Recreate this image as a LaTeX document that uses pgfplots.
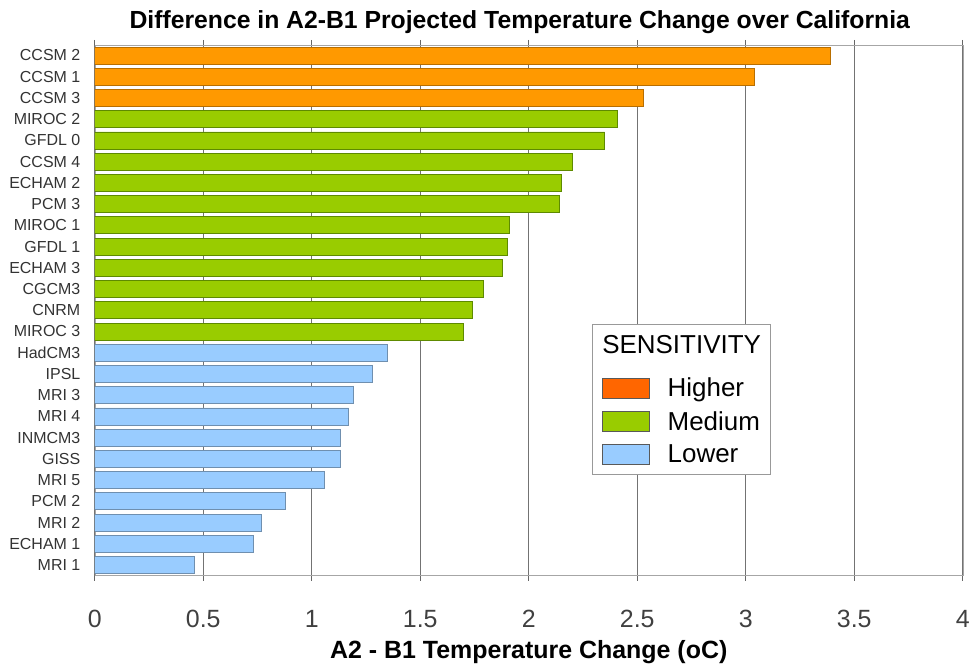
\documentclass[border=0pt]{standalone}
\usepackage{fontspec}
\setmainfont{Liberation Sans}
\usepackage{pgfplots}
\pgfplotsset{compat=1.18}
\definecolor{hiF}{HTML}{FF9900}
\definecolor{hiD}{HTML}{B86E00}
\definecolor{meF}{HTML}{99CC00}
\definecolor{meD}{HTML}{5E8A00}
\definecolor{loF}{HTML}{99CCFF}
\definecolor{loD}{HTML}{6F8FAF}
\definecolor{legHi}{HTML}{FF6600}
\begin{document}
\begin{tikzpicture}
\path (0pt,0pt) rectangle (973pt,665pt);
\begin{axis}[
  at={(95pt,88pt)}, anchor=south west,
  scale only axis, width=870pt, height=532pt,
  xmin=0, xmax=4, ymin=-0.5, ymax=24.5,
  xbar, bar shift=0pt, bar width=0.8,
  axis line style={draw=gray!70},
  xtick={0,0.5,1,1.5,2,2.5,3,3.5,4},
  xticklabels={0,0.5,1,1.5,2,2.5,3,3.5,4},
  xmajorgrids, grid style={draw=gray!90!black, line width=0.9pt},
  ytick={0,...,24},
  yticklabels={MRI 1,ECHAM 1,MRI 2,PCM 2,MRI 5,GISS,INMCM3,MRI 4,MRI 3,IPSL,HadCM3,MIROC 3,CNRM,CGCM3,ECHAM 3,GFDL 1,MIROC 1,PCM 3,ECHAM 2,CCSM 4,GFDL 0,MIROC 2,CCSM 3,CCSM 1,CCSM 2},
  ytick style={draw=none},
  minor ytick={-0.5,0.5,...,24.5},
  minor tick length=5pt, major tick length=5pt,
  tick align=outside,
  tick style={draw=gray!80!black, line width=0.8pt},
  xticklabel style={font=\fontsize{25}{29}\selectfont, text=black!75, yshift=-26pt},
  yticklabel style={font=\fontsize{16}{19}\selectfont, text=black!80, xshift=-6pt},
  /pgf/number format/assume math mode=true,
  title={\bfseries Difference in A2-B1 Projected Temperature Change over California},
  title style={font=\fontsize{24.8}{28}\selectfont, at={(axis description cs:0.5,1)}, anchor=base, yshift=10pt, xshift=-9pt},
  xlabel={\bfseries A2 - B1 Temperature Change (oC)},
  xlabel style={font=\fontsize{25}{29}\selectfont, at={(axis description cs:0.5,0)}, anchor=base, yshift=-83pt},
  legend style={at={(axis cs:2.29,11.35)}, anchor=north west, draw=gray!80, line width=0.8pt,
     font=\fontsize{26}{30}\selectfont, cells={anchor=west}, row sep=9pt, column sep=18pt,
     inner xsep=10pt, inner ysep=9pt, nodes={inner xsep=0pt}},
]
\addplot[fill=hiF, draw=hiD, line width=0.8pt, forget plot] coordinates {
(3.39,24) (3.04,23) (2.53,22)};
\addplot[fill=meF, draw=meD, line width=0.8pt, forget plot] coordinates {
(2.41,21) (2.35,20) (2.20,19) (2.15,18) (2.14,17) (1.91,16) (1.90,15) (1.88,14) (1.79,13) (1.74,12) (1.70,11)};
\addplot[fill=loF, draw=loD, line width=0.8pt, forget plot] coordinates {
(1.35,10) (1.28,9) (1.19,8) (1.17,7) (1.13,6) (1.13,5) (1.06,4) (0.88,3) (0.77,2) (0.73,1) (0.46,0)};
\addlegendimage{empty legend}
\addlegendentry{\hspace*{-65.5pt}\raisebox{10pt}{SENSITIVITY}}
\addlegendimage{legend image code/.code={\draw[fill=legHi,draw=gray!70!black,line width=0.8pt] (0pt,-10pt) rectangle (47pt,10pt);}}
\addlegendentry{Higher}
\addlegendimage{legend image code/.code={\draw[fill=meF,draw=gray!70!black,line width=0.8pt] (0pt,-10pt) rectangle (47pt,10pt);}}
\addlegendentry{Medium}
\addlegendimage{legend image code/.code={\draw[fill=loF,draw=gray!70!black,line width=0.8pt] (0pt,-10pt) rectangle (47pt,10pt);}}
\addlegendentry{Lower}
\end{axis}
\end{tikzpicture}
\end{document}
